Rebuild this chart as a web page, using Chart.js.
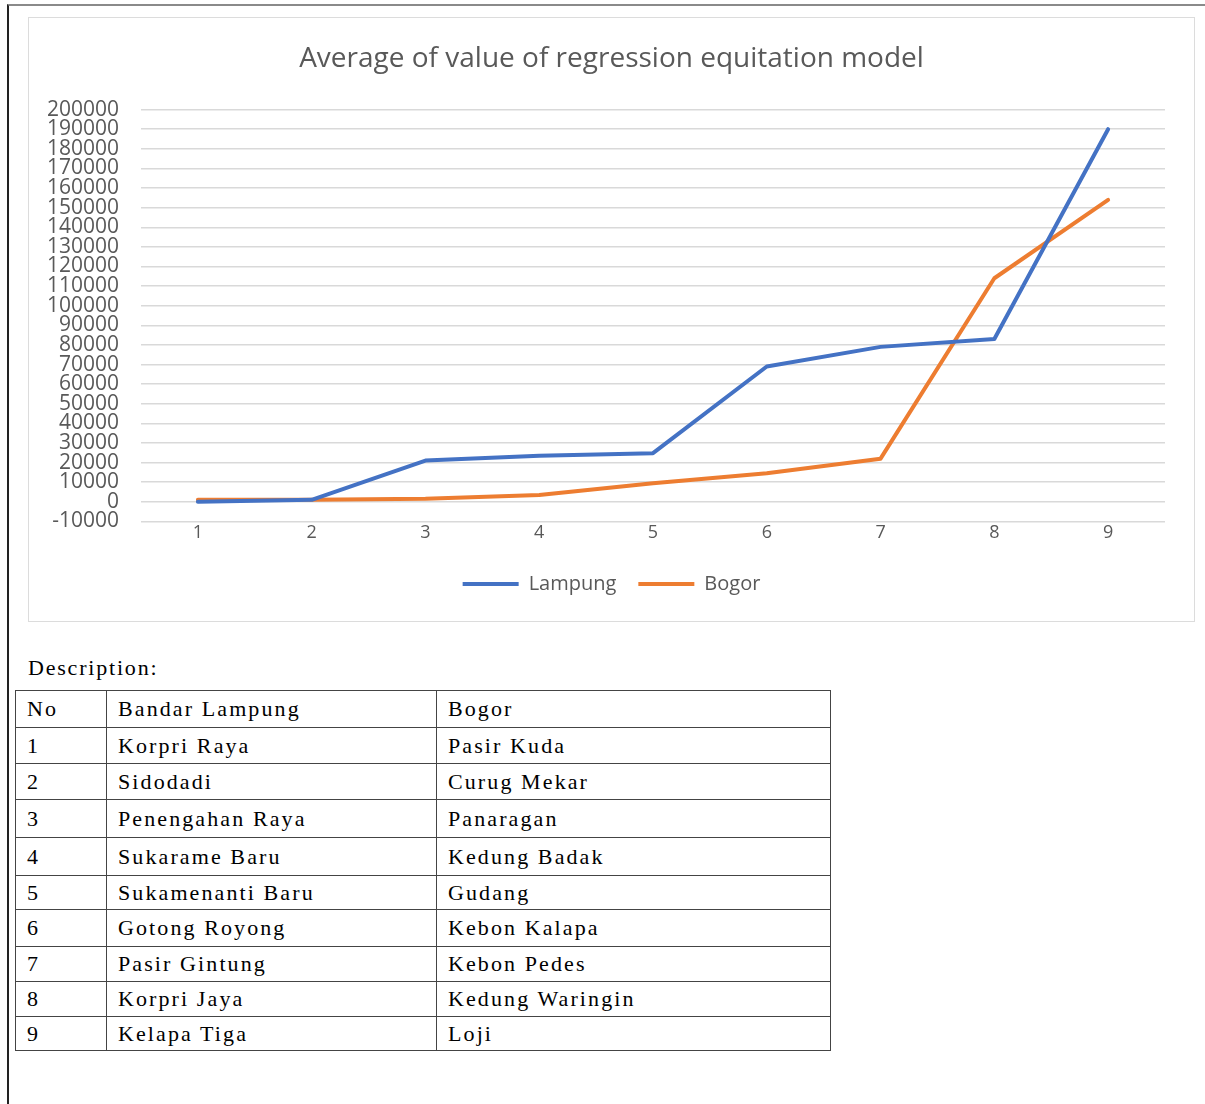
<!DOCTYPE html>
<html>
<head>
<meta charset="utf-8">
<script src="https://cdn.jsdelivr.net/npm/chart.js@4"></script>
<style>
  body { margin: 0; background: #fff; width: 1205px; height: 1104px; position: relative; overflow: hidden; }
  #frame { position: absolute; left: 7px; top: 4px; right: 0; bottom: 0; border-left: 2px solid #222; border-top: 2px solid #8a8a8a; }
  #box { position: absolute; left: 28px; top: 17px; width: 1167px; height: 605px; border: 1px solid #dcdcdc; box-sizing: border-box; }
  #desc { position: absolute; left: 28px; top: 655px; font: 22px "Liberation Serif", serif; letter-spacing: 1.8px; color: #000; }
  table { position: absolute; left: 15px; top: 690px; border-collapse: collapse; font: 22px "Liberation Serif", serif; letter-spacing: 2.1px; }
  td { border: 1.5px solid #444; padding: 0 0 0 11px; vertical-align: middle; }
</style>
</head>
<body>
<div id="frame"></div>
<div id="box"><canvas id="chart"></canvas></div>
<div id="desc">Description:</div>
<table id="tbl"></table>
<script>
const categories = ["1", "2", "3", "4", "5", "6", "7", "8", "9"];
const lampung = [0, 1000, 21000, 23500, 24800, 69000, 79000, 83000, 190000];
const bogor = [1000, 1000, 1500, 3500, 9500, 14600, 22000, 114000, 154000];
const lampungPlaces = ["Korpri Raya", "Sidodadi", "Penengahan Raya", "Sukarame Baru", "Sukamenanti Baru", "Gotong Royong", "Pasir Gintung", "Korpri Jaya", "Kelapa Tiga"];
const bogorPlaces = ["Pasir Kuda", "Curug Mekar", "Panaragan", "Kedung Badak", "Gudang", "Kebon Kalapa", "Kebon Pedes", "Kedung Waringin", "Loji"];

const tbl = document.getElementById("tbl");
const rowHeights = [37, 36, 36, 38, 38, 34, 37, 35, 35, 34];
function addRow(cells, h) {
  const tr = document.createElement("tr");
  cells.forEach((c, i) => {
    const td = document.createElement("td");
    td.textContent = c;
    td.style.width = ["79px", "318px", "382px"][i];
    td.style.height = h + "px";
    tr.appendChild(td);
  });
  tbl.appendChild(tr);
}
addRow(["No", "Bandar Lampung", "Bogor"], rowHeights[0] - 1);
categories.forEach((c, i) => addRow([c, lampungPlaces[i], bogorPlaces[i]], rowHeights[i + 1] - 1));

const gray = "#595959";
const canvas = document.getElementById("chart");
canvas.width = 1165; canvas.height = 603;
canvas.style.width = "1165px"; canvas.style.height = "603px";

new Chart(canvas, {
  type: "line",
  data: {
    labels: categories,
    datasets: [
      { label: "Lampung", data: lampung, borderColor: "#4472C4", backgroundColor: "#4472C4", borderWidth: 4, pointRadius: 0, tension: 0, borderJoinStyle: "round", borderCapStyle: "round" },
      { label: "Bogor", data: bogor, borderColor: "#ED7D31", backgroundColor: "#ED7D31", borderWidth: 4, pointRadius: 0, tension: 0, borderJoinStyle: "round", borderCapStyle: "round" }
    ]
  },
  options: {
    responsive: false,
    animation: false,
    layout: { padding: { left: 10, right: 10, top: 12, bottom: 17 } },
    plugins: {
      title: {
        display: true,
        text: "Average of value of regression equitation model",
        color: gray,
        font: { family: "'Open Sans'", size: 28, weight: "normal" },
        padding: { top: 12, bottom: 34 }
      },
      legend: {
        position: "bottom",
        labels: {
          color: gray, font: { family: "'Open Sans'", size: 20 },
          usePointStyle: true, pointStyle: "line", pointStyleWidth: 56, boxHeight: 4, padding: 22
        }
      },
      tooltip: { enabled: false }
    },
    scales: {
      x: {
        offset: true,
        grid: { display: false, drawTicks: false },
        border: { display: false },
        afterFit: s => { s.height += 7; },
        ticks: { color: gray, font: { family: "'Open Sans'", size: 18 }, padding: 1 }
      },
      y: {
        min: -10000,
        max: 200000,
        grid: { color: "#d9d9d9", lineWidth: 1.5, drawTicks: false },
        border: { display: false },
        afterFit: s => { s.width = 102; },
        ticks: {
          stepSize: 10000, autoSkip: false, color: gray, padding: 22,
          font: { family: "'Open Sans'", size: 21, lineHeight: 1 },
          callback: v => String(v)
        }
      },
      spacer: {
        position: "right",
        grid: { display: false, drawTicks: false },
        border: { display: false },
        ticks: { display: false },
        afterFit: s => { s.width = 19; }
      }
    }
  }
});
</script>
</body>
</html>
